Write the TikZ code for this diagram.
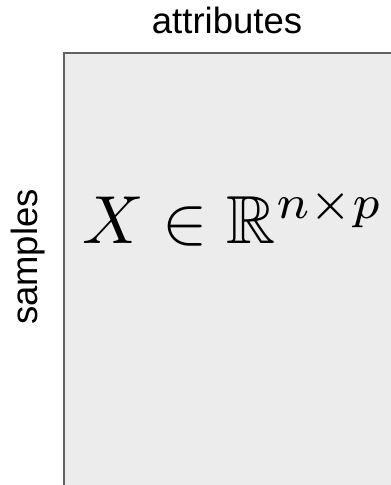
\documentclass[tikz,border=0pt]{standalone}
\usepackage{graphicx}
\usepackage{amsmath,amssymb}
\usepackage{fontspec}
\setsansfont{Liberation Sans}
\begin{document}
\begin{tikzpicture}[x=1pt,y=-1pt,
  lab/.style={font=\sffamily\fontsize{36.5}{40}\selectfont, inner sep=0pt},
  matbox/.style={draw=black!62, line width=2pt, fill=black!7.5}]
\useasboundingbox (0,0) rectangle (391,485);
\begin{scope}
\clip (0,0) rectangle (391,485);
\path[matbox] (64,53) rectangle (420,520);
\end{scope}
\node[lab, anchor=base] (attr) at (227,33) {attributes};
\node[lab, anchor=base, rotate=90] (samp) at (37,257) {samples};
\node[anchor=base west, inner sep=0pt] (eq) at (82,243) {\scalebox{6.8}{$X \in \mathbb{R}^{n\times p}$}};
\end{tikzpicture}
\end{document}
